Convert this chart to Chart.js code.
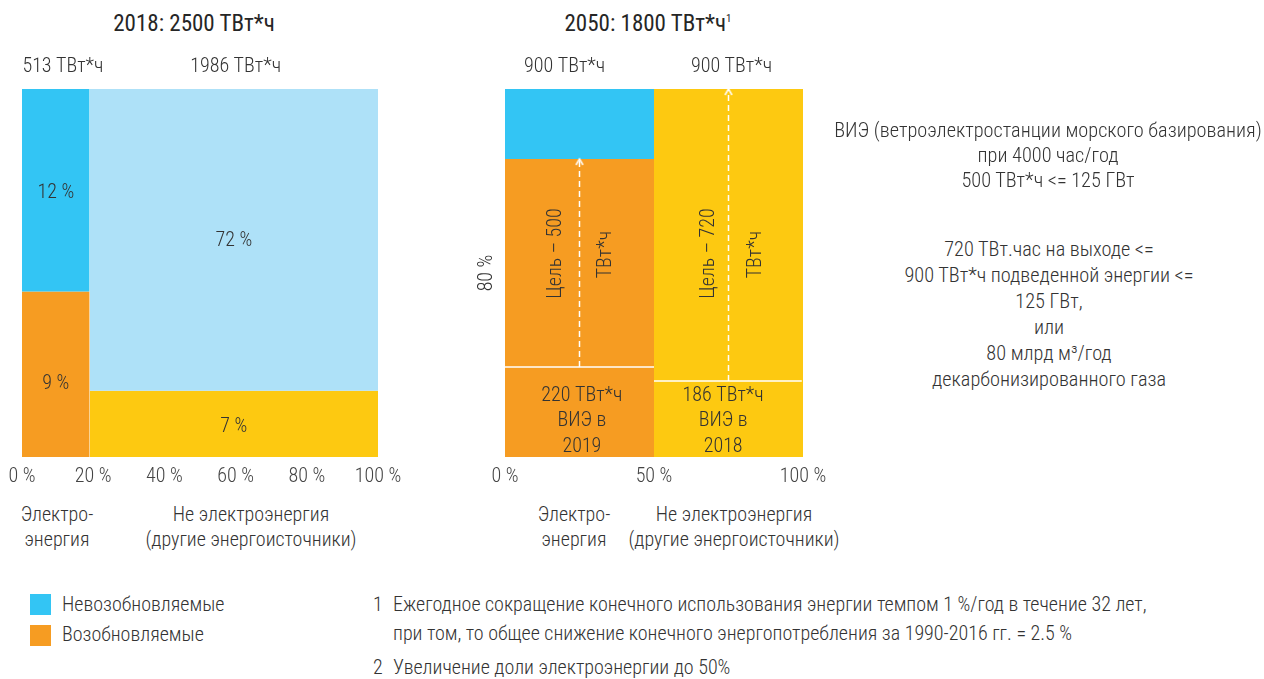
<!DOCTYPE html>
<html lang="ru">
<head>
<meta charset="utf-8">
<title>Энергопотребление 2018 / 2050</title>
<script src="https://cdn.jsdelivr.net/npm/chart.js@4.4.1/dist/chart.umd.min.js"></script>
<style>
  html, body { margin: 0; padding: 0; background: #fff; }
  body {
    width: 1264px; height: 679px; position: relative; overflow: hidden;
    font-family: "Roboto Condensed", Roboto, sans-serif; font-weight: 300;
    font-size: 20px; color: #333;
  }
  .t { position: absolute; white-space: nowrap; line-height: 25px; }
  .c { transform: translateX(-50%); text-align: center; }
  .title { font-weight: 400; font-size: 23px; color: #262626; line-height: 26px; }
  .title sup { font-size: 11px; font-weight: 400; vertical-align: 9px; line-height: 0; }
  .sw { position: absolute; width: 21px; height: 21px; }
  canvas { position: absolute; }
</style>
</head>
<body>

<div class="t c title" style="left:194px; top:11px;">2018: 2500 ТВт*ч</div>
<div class="t c title" style="left:648px; top:11px;">2050: 1800 ТВт*ч<sup>1</sup></div>

<canvas id="chart-2018" width="430" height="500" style="left:0; top:0; width:430px; height:500px;"></canvas>
<canvas id="chart-2050" width="400" height="500" style="left:460px; top:0; width:400px; height:500px;"></canvas>

<!-- подписи столбцов -->
<div class="t c" style="left:57px; top:502px;">Электро-<br>энергия</div>
<div class="t c" style="left:251px; top:502px;">Не электроэнергия<br>(другие энергоисточники)</div>
<div class="t c" style="left:574px; top:502px;">Электро-<br>энергия</div>
<div class="t c" style="left:734px; top:502px;">Не электроэнергия<br>(другие энергоисточники)</div>

<!-- пояснения справа -->
<div class="t c" style="left:1048px; top:118px; font-size:20.3px;">
  ВИЭ (ветроэлектростанции морского базирования)<br>при 4000 час/год<br>500 ТВт*ч &lt;= 125 ГВт
</div>
<div class="t c" style="left:1049px; top:236px; line-height:26px; font-size:20.3px;">
  720 ТВт.час на выходе &lt;=<br>900 ТВт*ч подведенной энергии &lt;=<br>125 ГВт,<br>или<br>80 млрд м³/год<br>декарбонизированного газа
</div>

<!-- легенда -->
<div class="sw" style="left:30px; top:594px; background:#33C5F4;"></div>
<div class="t" style="left:62px; top:592px;">Невозобновляемые</div>
<div class="sw" style="left:30px; top:625px; background:#F69C22;"></div>
<div class="t" style="left:62px; top:622px;">Возобновляемые</div>

<!-- сноски -->
<div class="t" style="left:373px; top:592px;">1</div>
<div class="t" style="left:393px; top:592px;">Ежегодное сокращение конечного использования энергии темпом 1 %/год в течение 32 лет,</div>
<div class="t" style="left:393px; top:621px;">при том, то общее снижение конечного энергопотребления за 1990-2016 гг. = 2.5 %</div>
<div class="t" style="left:373px; top:655px;">2</div>
<div class="t" style="left:393px; top:655px;">Увеличение доли электроэнергии до 50%</div>

<script>
// --- Data: 2018 ---
const energy2018 = [513, 1986];               // ТВт*ч по столбцам
const edges2018 = [0, 19, 100];               // границы столбцов, % ширины
const renHeight2018 = [45, 18];               // высота возобновляемой части, % столбца
const shareNonRen2018 = [12, 72];             // % от общего
const shareRen2018 = [9, 7];                  // % от общего

// --- Data: 2050 ---
const energy2050 = [900, 900];
const edges2050 = [0, 50, 100];
const renHeight2050 = [81, 100];
const resBase = [220, 186];                   // ВИЭ сегодня, ТВт*ч
const resBaseYear = [2019, 2018];
const resTarget = [500, 720];                 // цель, ТВт*ч
const shareLabel2050 = '80 %';

const ticks2018 = [0, 20, 40, 60, 80, 100];
const ticks2050 = [0, 50, 100];

// --- Colors ---
const colNonRenElec = '#33C5F4';
const colNonRenOther = '#AEE1F8';
const colRenElec = '#F69C22';
const colRenOther = '#FDC911';
const textColor = '#333333';

Chart.defaults.font.family = '"Roboto Condensed", Roboto, sans-serif';
Chart.defaults.font.weight = 300;
Chart.defaults.font.size = 20;
Chart.defaults.color = textColor;

// rectangle = horizontal line from x0 to x1 at "top", filled down to "bottom"
function rect(x0, x1, bottom, top, color) {
    return {
        data: [{ x: x0, y: top }, { x: x1, y: top }],
        fill: { value: bottom },
        backgroundColor: color,
        borderWidth: 0,
        pointRadius: 0,
        order: 2
    };
}

function hline(x0, x1, y) {
    return {
        data: [{ x: x0, y: y }, { x: x1, y: y }],
        borderColor: '#fff',
        borderWidth: 1.5,
        fill: false,
        pointRadius: 0,
        order: 1
    };
}

function chevron() {
    const c = document.createElement('canvas');
    c.width = 12;
    c.height = 16;
    const g = c.getContext('2d');
    g.strokeStyle = '#fff';
    g.lineWidth = 1.5;
    g.beginPath();
    g.moveTo(2.5, 14);
    g.lineTo(6, 8);
    g.lineTo(9.5, 14);
    g.stroke();
    return c;
}

function arrow(x, y0, y1) {
    return {
        data: [{ x: x, y: y0 }, { x: x, y: y1 }],
        borderColor: '#fff',
        borderWidth: 1.5,
        borderDash: [6, 4],
        fill: false,
        pointRadius: [0, 4],
        pointStyle: chevron(),
        order: 1
    };
}

// draws text items positioned with the chart's own scales
function textPlugin(items) {
    return {
        id: 'boxText',
        afterDatasetsDraw(chart) {
            const { ctx, scales: { x, y } } = chart;
            ctx.save();
            ctx.fillStyle = textColor;
            ctx.textAlign = 'center';
            ctx.textBaseline = 'middle';
            items.forEach(it => {
                const px = x.getPixelForValue(it.x) + (it.dx || 0);
                const py = y.getPixelForValue(it.y) + (it.dy || 0);
                ctx.font = `300 ${it.size || 20}px "Roboto Condensed", Roboto, sans-serif`;
                if (it.rotate) {
                    ctx.save();
                    ctx.translate(px, py);
                    ctx.rotate(-Math.PI / 2);
                    ctx.fillText(it.text, 0, 0);
                    ctx.restore();
                } else {
                    ctx.fillText(it.text, px, py);
                }
            });
            ctx.restore();
        }
    };
}

function baseOptions(tickValues, pad) {
    return {
        animation: false,
        responsive: false,
        events: [],
        layout: { padding: pad },
        plugins: { legend: { display: false }, tooltip: { enabled: false } },
        scales: {
            x: {
                type: 'linear', min: 0, max: 100,
                grid: { display: false, drawTicks: false },
                border: { display: false },
                afterBuildTicks: scale => { scale.ticks = tickValues.map(v => ({ value: v })); },
                afterFit: scale => { scale.height = 34; },
                ticks: { padding: 8, color: '#444', callback: v => v + ' %' }
            },
            y: { type: 'linear', min: 0, max: 100, display: false }
        }
    };
}

// --- Chart 2018 ---
const mid2018 = [(edges2018[0] + edges2018[1]) / 2, (edges2018[1] + edges2018[2]) / 2];
const items2018 = [
    { text: energy2018[0] + ' ТВт*ч', x: 11.5, y: 100, dy: -22 },
    { text: energy2018[1] + ' ТВт*ч', x: 60, y: 100, dy: -22 },
    { text: shareNonRen2018[0] + ' %', x: mid2018[0], y: (renHeight2018[0] + 100) / 2, dy: 3 },
    { text: shareRen2018[0] + ' %', x: mid2018[0], y: renHeight2018[0] / 2, dy: 10 },
    { text: shareNonRen2018[1] + ' %', x: mid2018[1], y: (renHeight2018[1] + 100) / 2, dy: 1 },
    { text: shareRen2018[1] + ' %', x: mid2018[1], y: renHeight2018[1] / 2, dy: 3 }
];

new Chart(document.getElementById('chart-2018'), {
    type: 'line',
    data: {
        datasets: [
            rect(edges2018[0], edges2018[1], renHeight2018[0], 100, colNonRenElec),
            rect(edges2018[0], edges2018[1], 0, renHeight2018[0], colRenElec),
            rect(edges2018[1], edges2018[2], renHeight2018[1], 100, colNonRenOther),
            rect(edges2018[1], edges2018[2], 0, renHeight2018[1], colRenOther)
        ]
    },
    options: baseOptions(ticks2018, { left: 22, right: 52, top: 89, bottom: 9 }),
    plugins: [textPlugin(items2018)]
});

// --- Chart 2050 ---
const baseH = resBase.map((v, i) => v / energy2050[i] * 100);
const mid2050 = [(edges2050[0] + edges2050[1]) / 2, (edges2050[1] + edges2050[2]) / 2];
const items2050 = [
    { text: energy2050[0] + ' ТВт*ч', x: 20, y: 100, dy: -22 },
    { text: energy2050[1] + ' ТВт*ч', x: 76, y: 100, dy: -22 },
    { text: shareLabel2050, x: 0, dx: -18, y: 50, rotate: true },
    { text: 'Цель – ' + resTarget[0], x: mid2050[0], dx: -24, y: 55.3, rotate: true },
    { text: 'ТВт*ч', x: mid2050[0], dx: 26, y: 55, rotate: true },
    { text: 'Цель – ' + resTarget[1], x: mid2050[1], dx: -20, y: 55.3, rotate: true },
    { text: 'ТВт*ч', x: mid2050[1], dx: 27, y: 55, rotate: true },
    { text: resBase[0] + ' ТВт*ч', x: 25.8, y: 0, dy: -61 },
    { text: 'ВИЭ в', x: 25.8, y: 0, dy: -36 },
    { text: String(resBaseYear[0]), x: 25.8, y: 0, dy: -10 },
    { text: resBase[1] + ' ТВт*ч', x: 73.2, y: 0, dy: -61 },
    { text: 'ВИЭ в', x: 73.2, y: 0, dy: -36 },
    { text: String(resBaseYear[1]), x: 73.2, y: 0, dy: -10 }
];

new Chart(document.getElementById('chart-2050'), {
    type: 'line',
    data: {
        datasets: [
            rect(edges2050[0], edges2050[1], renHeight2050[0], 100, colNonRenElec),
            rect(edges2050[0], edges2050[1], 0, renHeight2050[0], colRenElec),
            rect(edges2050[1], edges2050[2], 0, renHeight2050[1], colRenOther),
            hline(edges2050[0], edges2050[1], baseH[0]),
            hline(edges2050[1], edges2050[2] - 0.4, baseH[1]),
            arrow(mid2050[0], baseH[0], renHeight2050[0]),
            arrow(mid2050[1], baseH[1], renHeight2050[1])
        ]
    },
    options: baseOptions(ticks2050, { left: 45, right: 57, top: 89, bottom: 9 }),
    plugins: [textPlugin(items2050)]
});
</script>
</body>
</html>
